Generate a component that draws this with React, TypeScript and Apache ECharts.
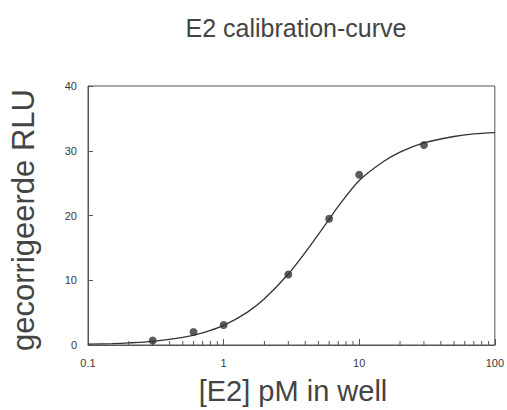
import React, { useEffect, useRef } from "react";
import * as echarts from "echarts";

// Measured standard points (x: [E2] pM in well, y: corrected RLU)
const pointX = [0.3, 0.6, 1, 3, 6, 10, 30];
const pointY = [0.7, 2.0, 3.1, 10.9, 19.5, 26.3, 30.9];

// Fitted calibration curve
const curveX = [0.1, 0.15, 0.2, 0.3, 0.5, 0.7, 1, 1.5, 2, 3, 4, 5, 6, 7, 10, 15, 20, 30, 50, 70, 100];
const curveY = [0.12, 0.21, 0.32, 0.57, 1.17, 1.87, 3.02, 5.08, 7.13, 10.96, 14.3, 17.1, 19.4, 21.4, 25.4, 28.3, 29.8, 31.2, 32.2, 32.6, 32.8];

// Minor tick positions on the log x axis
const minorTicks = [0.2, 0.3, 0.4, 0.5, 0.6, 0.7, 0.8, 0.9, 2, 3, 4, 5, 6, 7, 8, 9, 20, 30, 40, 50, 60, 70, 80, 90];

const titleText = "E2 calibration-curve";
const xName = "[E2] pM in well";
const yName = "gecorrigeerde RLU";

export default function App() {
  const ref = useRef<HTMLDivElement>(null);
  useEffect(() => {
    if (!ref.current) return;
    const chart = echarts.init(ref.current, undefined, { renderer: "svg" });
    const font = "'Liberation Sans', Arial, Helvetica, sans-serif";
    const ink = "#3a3a3a";
    chart.setOption({
      animation: false,
      backgroundColor: "#ffffff",
      grid: {
        left: 88,
        right: 7,
        top: 86,
        bottom: 65,
        show: true,
        borderColor: "#555",
        borderWidth: 1,
        backgroundColor: "transparent",
      },
      xAxis: {
        type: "log",
        logBase: 10,
        min: 0.1,
        max: 100,
        axisLine: { show: true, lineStyle: { color: "#555", width: 1 } },
        axisTick: { show: true, inside: true, length: 6, lineStyle: { color: "#555" } },
        splitLine: { show: false },
        axisLabel: {
          color: ink,
          fontSize: 11,
          fontFamily: font,
          margin: 12,
          formatter: (v: number) => (v < 1 ? String(v) : String(Math.round(v))),
        },
      },
      yAxis: {
        type: "value",
        min: 0,
        max: 40,
        interval: 10,
        axisLine: { show: true, lineStyle: { color: "#555", width: 1 } },
        axisTick: { show: true, inside: true, length: 5, lineStyle: { color: "#555" } },
        splitLine: { show: false },
        axisLabel: { color: ink, fontSize: 11, fontFamily: font, margin: 11 },
      },
      graphic: [
        {
          type: "text",
          x: 296,
          y: 28,
          style: {
            text: titleText,
            fill: "#444",
            font: `25px ${font}`,
            textAlign: "center",
            textVerticalAlign: "middle",
          },
        },
        {
          type: "text",
          x: 293,
          y: 391,
          style: {
            text: xName,
            fill: "#444",
            font: `29px ${font}`,
            textAlign: "center",
            textVerticalAlign: "middle",
          },
        },
        {
          type: "text",
          x: 23,
          y: 220,
          rotation: Math.PI / 2,
          style: {
            text: yName,
            fill: "#444",
            font: `31px ${font}`,
            textAlign: "center",
            textVerticalAlign: "middle",
          },
        },
      ],
      series: [
        {
          type: "line",
          data: curveX.map((x, i) => [x, curveY[i]]),
          smooth: 0.3,
          showSymbol: false,
          lineStyle: { color: "#333", width: 1.3 },
          z: 2,
        },
        {
          type: "scatter",
          data: pointX.map((x, i) => [x, pointY[i]]),
          symbol: "circle",
          symbolSize: 8,
          itemStyle: { color: "#333" },
          z: 3,
        },
        {
          type: "custom",
          data: minorTicks.map((x) => [x, 0]),
          renderItem: (params: any, api: any) => {
            const p = api.coord([api.value(0), api.value(1)]);
            return {
              type: "line",
              shape: { x1: p[0], y1: p[1], x2: p[0], y2: p[1] - 4 },
              style: { stroke: "#555", lineWidth: 1 },
            };
          },
          silent: true,
          z: 1,
        },
      ],
    });
    return () => chart.dispose();
  }, []);
  return (
    <div
      ref={ref}
      style={{ position: "fixed", left: 0, top: 0, width: 507, height: 410 }}
    />
  );
}
